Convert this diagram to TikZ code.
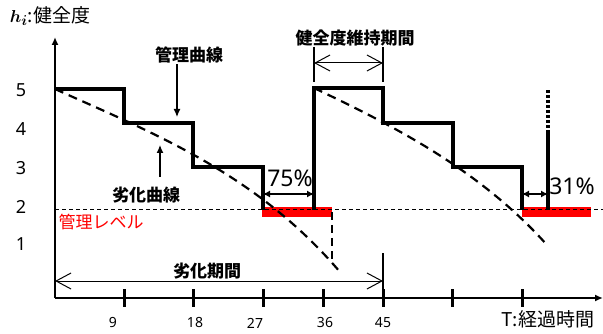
\documentclass[tikz,border=0pt]{standalone}
\usepackage{fontspec}
\setmainfont{Noto Sans}
\newfontfamily\jp{Noto Sans CJK JP}
\usetikzlibrary{arrows.meta,positioning,calc}
\tikzset{>={Latex[length=8pt,width=7pt]}}
\tikzset{
  axisline/.style={line width=2pt},
  tickline/.style={line width=3pt},
  mgmtcurve/.style={line width=3.6pt},
  decaycurve/.style={line width=2.2pt, dash pattern=on 9pt off 6pt},
  levelline/.style={line width=1pt, dash pattern=on 4pt off 3pt},
  period/.style={line width=1pt, {Straight Barb[length=15pt,width=16pt]}-{Straight Barb[length=15pt,width=16pt]}},
  gaparrow/.style={line width=1.2pt, {Latex[length=7pt,width=7pt]}-{Latex[length=7pt,width=7pt]}},
  jbold/.style={font=\jp\bfseries\fontsize{17pt}{20pt}\selectfont, inner sep=1pt},
  jplain/.style={font=\jp\fontsize{19pt}{22pt}\selectfont, inner sep=1pt},
  pct/.style={font=\fontsize{23pt}{26pt}\selectfont, inner sep=1pt},
  ticklabel/.style={font=\fontsize{14pt}{16pt}\selectfont, inner sep=1pt},
  ylabel/.style={font=\fontsize{18pt}{20pt}\selectfont, inner sep=1pt},
  redbar/.style={fill=red, draw=none}
}

\begin{document}
\begin{tikzpicture}[x=1pt,y=-1pt]
\useasboundingbox (0,0) rectangle (603,334);
% axes
\coordinate (o) at (55,298);
\coordinate (ytop) at (55,37);
\coordinate (xend) at (603,298);
\draw[axisline,->] (o) -- (ytop);
\draw[axisline,->] (o) -- (xend);
\foreach \x in {124,193,263,323,383,452,522}
  \draw[tickline] (\x,289) -- (\x,307);
\foreach \x/\t in {113/9,195/18,255/27,325/36,383/45}
  \node[ticklabel] (t\t) at (\x,323) {\t};
\foreach \y/\v in {90/5,129/4,168/3,207/2,244/1}
  \node[ylabel] (y\v) at (21,\y) {\v};
\node[jplain] (hlabel) at (50,16) {{\boldmath$h_i$}:健全度};
\node[jplain] (tlabel) at (548,319) {T:経過時間};

% red bars and level
\fill[redbar] (262,207) rectangle (332,217);
\fill[redbar] (522,207) rectangle (591,217);
\draw[levelline] (55,210) -- (603,210);
\node[font=\jp\fontsize{17pt}{20pt}\selectfont, text=red, inner sep=1pt] (lvl) at (101,222) {管理レベル};

% decay curves
\draw[decaycurve] (55,89) .. controls (150,132) and (255,172) .. (340,272);
\draw[decaycurve] (314,88) .. controls (394,126) and (480,170) .. (547,245);
\draw[decaycurve, line width=2pt, dash pattern=on 8pt off 5pt] (332,212) -- (332,262);

% management curve
\draw[mgmtcurve] (55,89) -- (124,89) -- (124,123) -- (193,123) -- (193,167)
  -- (263,167) -- (263,210);
\draw[mgmtcurve] (314,210) -- (314,88) -- (383,88) -- (383,123) -- (453,123)
  -- (453,167) -- (522,167) -- (522,210);
\draw[mgmtcurve] (548,210) -- (548,133);
\draw[line width=3.6pt, dash pattern=on 3pt off 2pt] (548,133) -- (548,90);

% labels with arrows
\node[jbold] (kanri) at (189,55) {管理曲線};
\coordinate (kanritip) at (177,117);
\draw[line width=1.2pt,->] (kanri.south -| kanritip) -- (kanritip);
\node[jbold] (rekka) at (146,195) {劣化曲線};
\coordinate (rekkafrom) at (160,177);
\coordinate (rekkatip) at (160,145);
\draw[line width=1.2pt,->] (rekkafrom) -- (rekkatip);

% gaps
\coordinate (ga) at (263,194);
\coordinate (gb) at (314,194);
\draw[gaparrow] (ga) -- (gb);
\node[pct] (p75) at (290,178) {75\%};
\coordinate (gc) at (522,194);
\coordinate (gd) at (548,194);
\draw[gaparrow] (gc) -- (gd);
\node[pct] (p31) at (572,186) {31\%};

% maintenance period
\node[jbold] (iji) at (355,38) {健全度維持期間};
\draw[line width=1.2pt] (314,47) -- (314,82);
\draw[line width=1.2pt] (383,47) -- (383,82);
\coordinate (ia) at (314,63);
\coordinate (ib) at (383,63);
\draw[period] (ia) -- (ib);

% deterioration period
\node[jbold] (kikan) at (207,271) {劣化期間};
\coordinate (ka) at (55,281);
\coordinate (kb) at (383,281);
\draw[period] (ka) -- (kb);
\draw[line width=1.2pt] (383,253) -- (383,298);
%\draw[help lines,step=20] (0,0) grid (603,334);
\end{tikzpicture}
\end{document}
